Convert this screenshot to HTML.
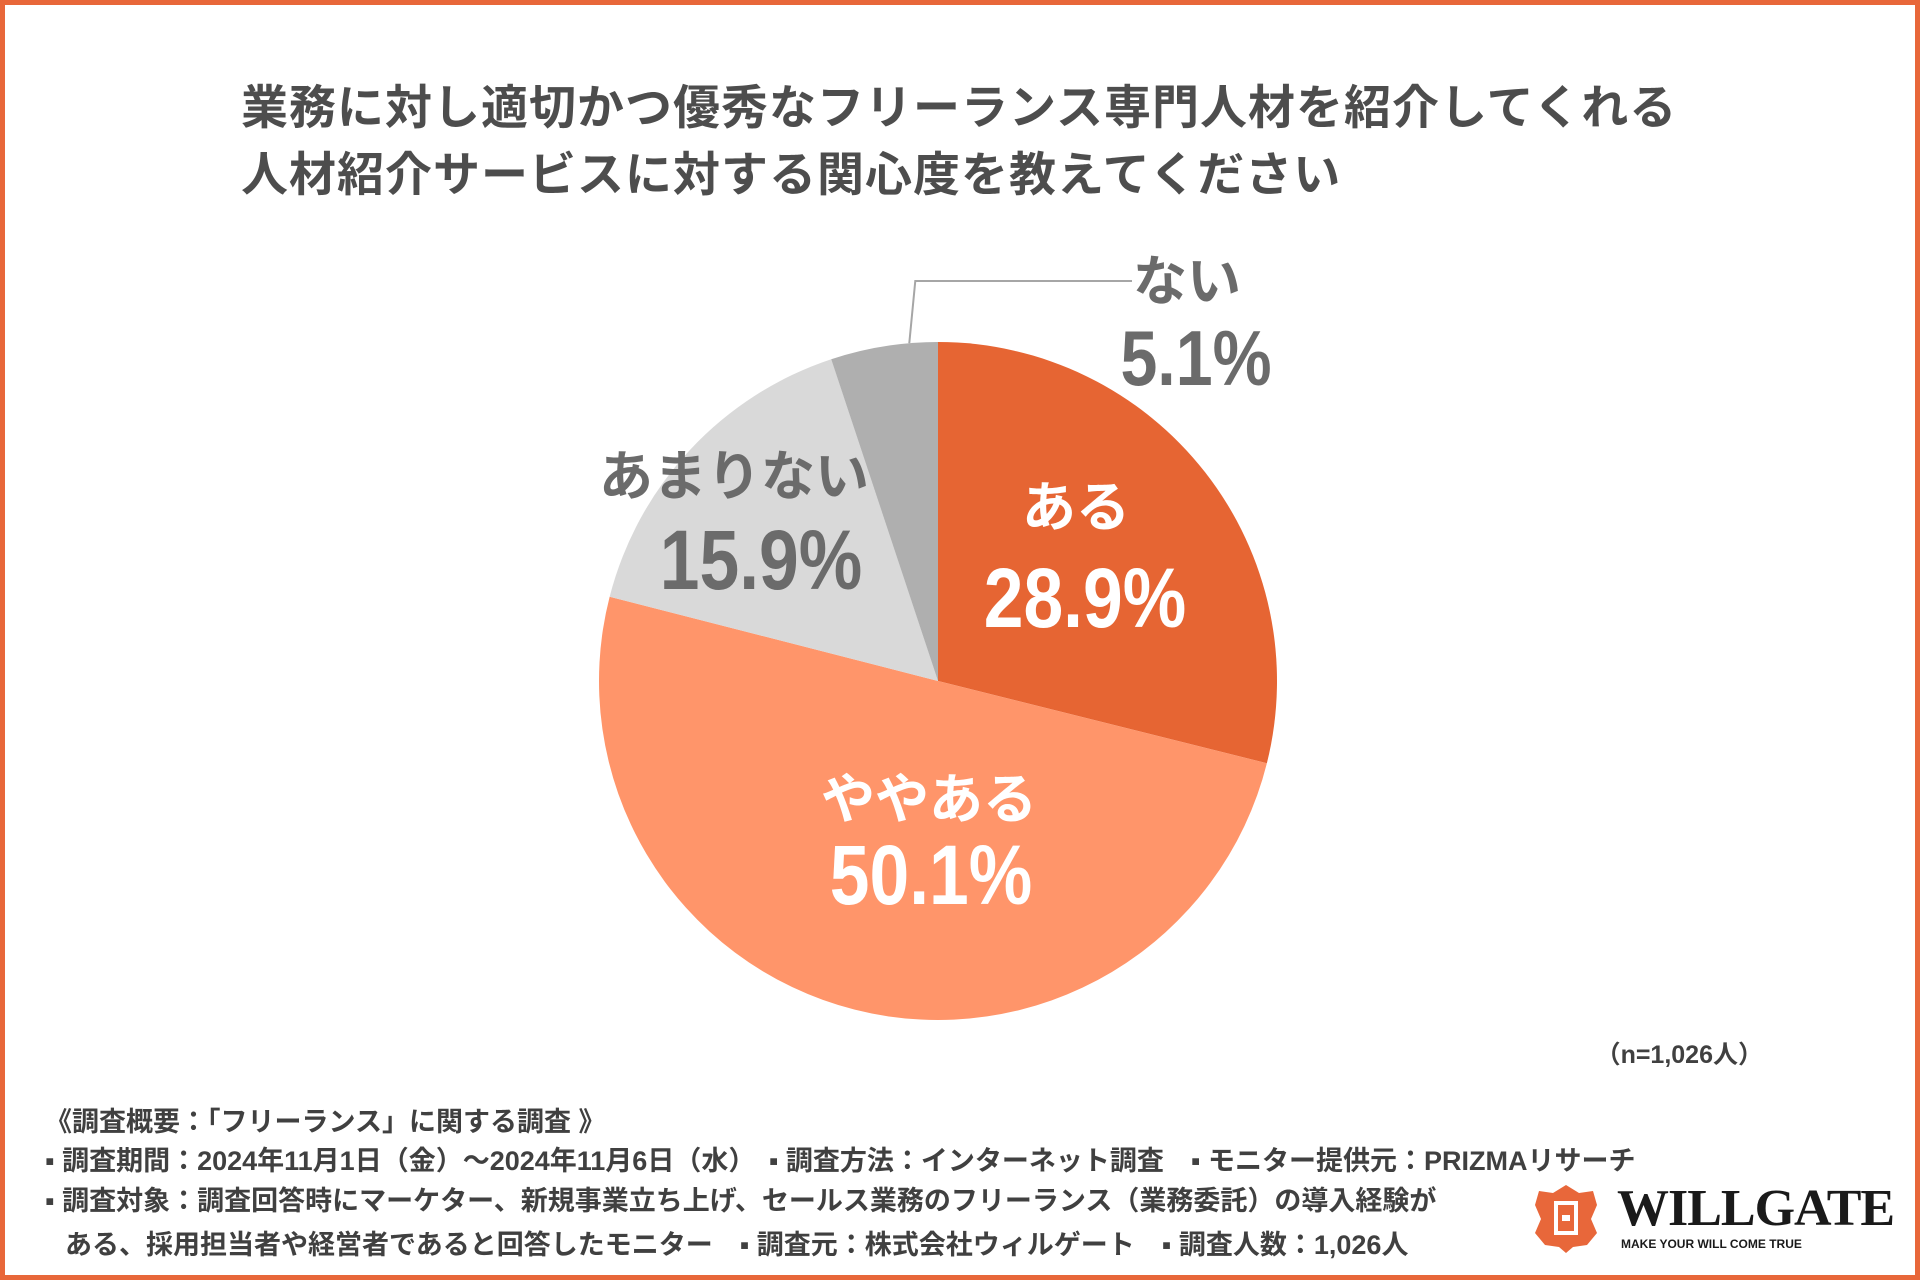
<!DOCTYPE html>
<html><head><meta charset="utf-8"><style>
html,body{margin:0;padding:0;background:#fff}
#root{position:relative;width:1920px;height:1280px;overflow:hidden;box-sizing:border-box;border:5px solid #E8673A;background:#fff;font-family:"Liberation Sans","Noto Sans CJK JP",sans-serif}
.t{position:absolute;white-space:nowrap}
.title{left:236px;font-size:47px;font-weight:bold;color:#4d4d4d;letter-spacing:1px}
.foot{left:40px;font-size:27px;font-weight:bold;color:#404040}
</style></head><body>
<div id="root">
<div class="t title" style="top:64px">業務に対し適切かつ優秀なフリーランス専門人材を紹介してくれる</div>
<div class="t title" style="top:131px">人材紹介サービスに対する関心度を教えてください</div>
<svg id="pie" width="1920" height="1280" style="position:absolute;left:-5px;top:-5px"></svg>
<div class="t" style="right:152px;top:1030px;font-size:25px;font-weight:bold;color:#404040">（n=1,026人）</div>
<div class="t foot" style="top:1095px">《調査概要：「フリーランス」に関する調査 》</div>
<div class="t foot" style="top:1134px">▪ 調査期間：2024年11月1日（金）～2024年11月6日（水）　▪ 調査方法：インターネット調査　▪ モニター提供元：PRIZMAリサーチ</div>
<div class="t foot" style="top:1174px">▪ 調査対象：調査回答時にマーケター、新規事業立ち上げ、セールス業務のフリーランス（業務委託）の導入経験が</div>
<div class="t foot" style="top:1218px;left:60px">ある、採用担当者や経営者であると回答したモニター　▪ 調査元：株式会社ウィルゲート　▪ 調査人数：1,026人</div>
<div class="t" style="left:1526px;top:1178px;width:370px;height:72px">
<svg width="70" height="72" style="position:absolute;left:0;top:0"><path d="M35 2 L48 10 L62 8 L66 22 L60 36 L66 50 L56 62 L42 64 L35 70 L28 64 L14 62 L4 50 L10 36 L4 22 L8 8 L22 10 Z" fill="#E8673A"/><rect x="25" y="20" width="20" height="30" fill="none" stroke="#fff" stroke-width="4"/><rect x="31" y="32" width="8" height="6" fill="#fff"/></svg>
<div class="t" style="left:86px;top:-4px;font-family:'Liberation Serif',serif;font-weight:bold;font-size:52px;color:#1a1a1a;letter-spacing:-1px">WILLGATE</div>
<div class="t" style="left:90px;top:54px;font-size:12px;font-weight:bold;color:#1a1a1a">MAKE YOUR WILL COME TRUE</div>
</div>
</div>
<script>
const categories=["ある","ややある","あまりない","ない"];
const values=[28.9,50.1,15.9,5.1];
const labels=["28.9%","50.1%","15.9%","5.1%"];
const colors=["#E66533","#FF956A","#D9D9D9","#AFAFAF"];
const svg=document.getElementById('pie');
const NS='http://www.w3.org/2000/svg';
const cx=938,cy=681,r=339;
const total=values.reduce((a,b)=>a+b,0);
function pt(frac,rad){const a=frac*2*Math.PI-Math.PI/2;return [cx+rad*Math.cos(a),cy+rad*Math.sin(a)];}
let acc=0;
const mids=[];
values.forEach((v,i)=>{
 const f0=acc/total,f1=(acc+v)/total;acc+=v;mids.push((f0+f1)/2);
 const p0=pt(f0,r),p1=pt(f1,r);const large=(f1-f0)>0.5?1:0;
 const p=document.createElementNS(NS,'path');
 p.setAttribute('d',`M${cx},${cy} L${p0[0]},${p0[1]} A${r},${r} 0 ${large} 1 ${p1[0]},${p1[1]} Z`);
 p.setAttribute('fill',colors[i]);
 
 
 svg.appendChild(p);
});
const anchors=[[[1076,507],[1085,596]],[[929,799],[931,873]],[[734,476],[761,558]],[[1187,281],[1196,354]]];
anchors.forEach((a,i)=>{
 const col=(i<2)?'#fff':'#6b6b6b';
 const t1=document.createElementNS(NS,'text');
 t1.setAttribute('x',a[0][0]);t1.setAttribute('y',a[0][1]+19);
 t1.setAttribute('text-anchor','middle');t1.setAttribute('fill',col);
 t1.setAttribute('font-size','54');t1.setAttribute('font-weight','bold');
 t1.setAttribute('font-family','"Liberation Sans","Noto Sans CJK JP",sans-serif');
 t1.textContent=categories[i];
 
 
 svg.appendChild(t1);
 const x=a[1][0];
 const t2=document.createElementNS(NS,'text');
 t2.setAttribute('x',x);t2.setAttribute('y',a[1][1]+31);
 t2.setAttribute('text-anchor','middle');t2.setAttribute('fill',col);
 t2.setAttribute('font-size',i===3?'78':'84');t2.setAttribute('font-weight','bold');
 t2.setAttribute('font-family','"Liberation Sans Narrow","Liberation Sans",sans-serif');
 t2.setAttribute('transform',`translate(${x},0) scale(0.85,1) translate(${-x},0)`);
 t2.textContent=labels[i];
 
 
 svg.appendChild(t2);
});
const lp=pt(mids[3]+0.012,r);
const ln=document.createElementNS(NS,'polyline');
ln.setAttribute('points',`${lp[0]},${lp[1]} ${lp[0]+6},${281} ${1132},${281}`);
ln.setAttribute('fill','none');ln.setAttribute('stroke','#a6a6a6');ln.setAttribute('stroke-width','2');


svg.appendChild(ln);
</script>
</body></html>
